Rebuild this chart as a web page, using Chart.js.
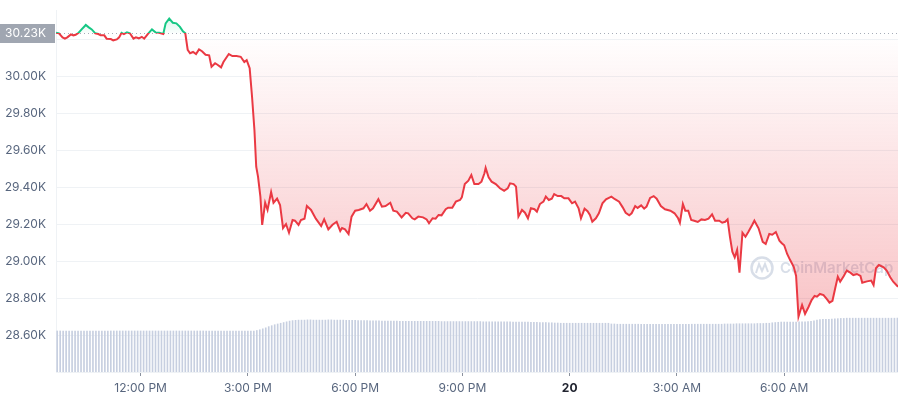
<!DOCTYPE html>
<html>
<head>
<meta charset="utf-8">
<script src="https://cdn.jsdelivr.net/npm/chart.js@4.4.0/dist/chart.umd.min.js"></script>
<style>
  html, body { margin: 0; padding: 0; background: #fff; }
  #wrap { width: 900px; height: 400px; position: relative; }
</style>
</head>
<body>
<div id="wrap"><canvas id="price-chart"></canvas></div>
<script>
// time in minutes from midnight of the 19th
const priceTimes = [
  578,583,589,593,597,603,607,611,616,621,628,633,638,644,649,653,659,663,670,674,680,684,688,692,697,702,708,712,717,722,726,732,739,745,751,758,762,768,774,780,786,791,795,799,803,808,813,818,
  823,829,835,839,845,849,855,859,868,874,881,888,894,898,903,907,911,914,917,921,924,929,933,939,943,949,954,959,964,969,975,979,985,989,995,999,1006,1014,1023,1028,1035,1042,1049,1055,
  1058,1063,1069,1074,1080,1086,1094,1099,1105,1110,1119,1125,1131,1139,1144,1150,1158,1165,1169,1176,1180,1186,1194,1200,1204,1210,1215,1220,1225,1232,1236,1243,1249,1256,1259,1264,1270,1275,1280,1287,
  1292,1297,1299,1304,1309,1316,1323,1330,1336,1340,1346,1350,1354,1360,1365,1370,1375,1381,1385,1390,1396,1400,1405,1410,1414,1420,1426,1431,1438,1444,1449,1455,1459,1465,1470,1474,1478,1484,1489,1495,1501,1510,1516,
  1523,1529,1534,1540,1544,1550,1554,1560,1565,1569,1575,1581,1586,1593,1600,1609,1616,1622,1625,1630,1634,1639,1644,1649,1655,1661,1667,1673,1679,1684,1691,1696,1701,1705,1709,1713,1717,1721,1725,1730,1735,1740,1746,1750,
  1757,1764,1769,1775,1780,1786,1792,1796,1800,1805,1810,1816,1820,1824,1830,1835,1841,1846,1851,1855,1860,1866,1872,1876,1881,1886,1890,1894,1900,1905,1911,1916,1922,1928,1931,1939,1946,1950,1954,1959,1967,1972,1978,1983,1991
];
const prices = [
  30234,30231,30209,30202,30209,30225,30220,30223,30234,30252,30276,30263,30252,30231,30227,30220,30220,30202,30200,30193,30198,30209,30234,30227,30236,30231,30202,30209,30204,30212,30202,30227,30252,30236,30234,30227,30285,30310,30288,30285,30266,30242,30231,30141,30123,30130,30119,30144,
  30134,30115,30112,30050,30069,30061,30047,30076,30119,30108,30108,30104,30076,30086,30042,29888,29708,29510,29456,29348,29195,29315,29276,29373,29315,29337,29303,29178,29200,29153,29222,29218,29195,29222,29229,29297,29276,29229,29189,29225,29171,29196,29212,29162,
  29178,29171,29146,29240,29272,29276,29285,29308,29272,29285,29334,29294,29297,29315,29272,29267,29236,29261,29258,29231,29225,29240,29236,29225,29204,29231,29229,29249,29247,29280,29288,29288,29321,29330,29344,29416,29434,29465,29416,29416,
  29429,29474,29503,29452,29429,29416,29393,29380,29393,29420,29416,29402,29240,29276,29261,29231,29285,29280,29267,29308,29321,29348,29330,29337,29362,29351,29351,29339,29339,29312,29321,29285,29231,29283,29269,29249,29212,29231,29258,29312,29334,29348,29334,
  29321,29290,29261,29247,29258,29297,29287,29301,29283,29294,29341,29351,29337,29297,29280,29272,29258,29231,29207,29308,29272,29272,29222,29218,29211,29225,29222,29229,29252,29218,29218,29207,29212,29225,29131,29050,29020,29060,28937,29153,29131,29158,29193,29218,
  29177,29104,29092,29146,29142,29157,29110,29096,29085,29038,29005,28969,28919,28699,28762,28714,28753,28789,28811,28807,28822,28816,28793,28775,28785,28858,28915,28888,28919,28948,28937,28924,28930,28919,28883,28890,28894,28870,28961,28978,28966,28948,28912,28888,28861
];
const openPrice = 30230;

// volume bars, one every 5 minutes (in $B)
const volumeStart = 580;
const volumeStep = 5;
const volumes = [
  17.0,17.0,17.0,17.0,17.0,17.0,17.0,17.0,17.0,17.0,
  17.0,17.0,17.0,17.0,17.0,17.0,17.0,17.0,17.0,17.0,
  17.0,17.0,17.0,17.0,17.0,17.0,17.0,17.0,17.0,17.0,
  17.0,17.0,17.0,17.0,17.0,17.0,17.0,17.0,17.0,17.0,
  17.0,17.0,17.0,17.0,17.0,17.0,17.0,17.0,17.0,17.0,
  17.0,17.0,17.0,17.0,17.0,17.0,17.0,17.0,17.0,17.0,
  17.0,17.0,17.0,17.0,17.0,17.0,17.0,
  17.2,17.5,17.9,18.3,18.8,19.2,19.6,19.9,20.2,20.5,20.8,21.1,
  21.3,21.4,21.5,21.5,21.5,21.6,21.6,21.5,21.5,21.5,
  21.5,21.5,21.6,21.6,21.5,21.5,21.5,21.5,21.4,21.4,
  21.4,21.4,21.3,21.3,21.3,21.3,21.2,21.2,21.2,21.2,
  21.1,21.1,21.1,21.1,21.1,21.1,21.0,21.0,21.0,21.0,
  21.0,21.0,21.0,21.0,21.0,21.0,21.0,21.0,21.0,21.0,
  20.9,20.9,20.9,20.9,20.9,20.9,20.9,20.9,20.9,20.9,
  20.9,20.9,20.9,20.9,20.8,20.8,20.8,20.8,20.8,20.8,
  20.8,20.8,20.8,20.8,20.7,20.7,20.7,20.7,20.7,20.7,
  20.6,20.6,20.6,20.5,20.5,20.5,20.4,20.4,20.3,20.3,
  20.2,20.2,20.2,20.2,20.2,20.2,20.2,20.2,20.2,20.2,
  20.2,20.2,20.2,20.2,20.2,20.2,20.2,
  19.9,19.9,19.8,19.8,19.8,19.8,19.8,19.8,19.8,19.8,
  19.8,19.8,19.8,19.8,19.8,19.8,19.8,19.8,19.8,19.8,
  19.8,19.8,19.8,19.8,19.8,19.8,19.8,19.8,19.8,19.8,
  19.8,19.8,19.8,19.8,19.8,19.8,19.8,19.8,19.9,19.9,
  19.9,19.9,20.0,20.0,
  20.0,20.0,20.0,20.0,20.0,20.1,20.1,20.1,20.2,20.2,
  20.4,20.5,20.6,20.7,20.7,20.7,20.7,20.7,20.7,20.8,20.8,20.8,20.9,21.0,21.2,
  21.5,21.7,21.8,21.8,21.8,21.9,22.0,22.1,
  22.2,22.2,22.3,22.3,22.3,22.3,22.3,22.3,22.3,22.3,
  22.3,22.3,22.3,22.3,22.3,22.3,22.3,22.3,22.3,22.3
];

const tickMinutes = [720, 900, 1080, 1260, 1440, 1620, 1800];
const tickLabels = ["12:00 PM", "3:00 PM", "6:00 PM", "9:00 PM", "20", "3:00 AM", "6:00 AM"];

const RED = "#ea3943";
const GREEN = "#16c784";

function splitGradient(chart, above, below) {
  const { chartArea, scales } = chart;
  if (!chartArea) return below[1];
  const g = chart.ctx.createLinearGradient(0, chartArea.top, 0, chartArea.bottom);
  let p = (scales.y.getPixelForValue(openPrice) - chartArea.top) / (chartArea.bottom - chartArea.top);
  p = Math.min(Math.max(p, 0), 1);
  g.addColorStop(0, above[0]);
  g.addColorStop(p, above[1]);
  g.addColorStop(p, below[0]);
  g.addColorStop(1, below[1]);
  return g;
}

const refLine = {
  id: "refLine",
  beforeDatasetsDraw(chart) {
    const { ctx, chartArea, scales } = chart;
    const y = Math.round(scales.y.getPixelForValue(openPrice)) + 0.5;
    ctx.save();
    ctx.strokeStyle = "#a6acb8";
    ctx.lineWidth = 1;
    ctx.setLineDash([1, 3]);
    ctx.beginPath();
    ctx.moveTo(chartArea.left, y);
    ctx.lineTo(chartArea.right, y);
    ctx.stroke();
    ctx.restore();

    // watermark
    ctx.save();
    ctx.globalAlpha = 0.55;
    ctx.strokeStyle = "#b8c2d6";
    ctx.fillStyle = "#b8c2d6";
    ctx.lineWidth = 2.5;
    ctx.beginPath();
    ctx.arc(762, 268, 10.5, 0, Math.PI * 2);
    ctx.stroke();
    ctx.lineWidth = 2;
    ctx.beginPath();
    ctx.moveTo(756, 273);
    ctx.lineTo(759, 264);
    ctx.lineTo(762, 271);
    ctx.lineTo(765, 264);
    ctx.lineTo(768, 272);
    ctx.stroke();
    ctx.font = "600 15px Inter";
    ctx.textBaseline = "middle";
    ctx.fillText("CoinMarketCap", 780, 268.5);
    ctx.restore();
  },
  afterDraw(chart) {
    const { ctx, scales } = chart;
    const y = scales.y.getPixelForValue(openPrice);
    ctx.save();
    ctx.fillStyle = "#a0a6b1";
    ctx.fillRect(0, Math.round(y) - 9, 55, 19);
    ctx.fillStyle = "#ffffff";
    ctx.font = "12px Inter";
    ctx.textAlign = "right";
    ctx.textBaseline = "middle";
    ctx.fillText((openPrice / 1000).toFixed(2) + "K", 46, Math.round(y) + 0.5);
    ctx.restore();
  }
};

const pricePoints = priceTimes.map((t, i) => ({ x: t, y: prices[i] }));
const volumePoints = volumes.map((v, i) => ({ x: volumeStart + i * volumeStep, y: v }));

new Chart(document.getElementById("price-chart"), {
  data: {
    datasets: [
      {
        type: "line",
        data: pricePoints,
        yAxisID: "y",
        borderWidth: 2,
        pointRadius: 0,
        tension: 0,
        borderColor: (c) => splitGradient(c.chart, [GREEN, GREEN], [RED, RED]),
        backgroundColor: (c) => splitGradient(c.chart,
          ["rgba(22,199,132,0.22)", "rgba(22,199,132,0.02)"],
          ["rgba(234,57,67,0.0)", "rgba(234,57,67,0.36)"]),
        fill: { value: openPrice },
      },
      {
        type: "bar",
        data: volumePoints,
        yAxisID: "yv",
        backgroundColor: "#c7cfe0",
        barThickness: 1,
        grouped: false,
      },
    ],
  },
  options: {
    responsive: true,
    maintainAspectRatio: false,
    animation: false,
    layout: { padding: { top: 10, right: 2, left: 0, bottom: 0 } },
    plugins: { legend: { display: false }, tooltip: { enabled: false } },
    scales: {
      x: {
        type: "linear",
        offset: false,
        min: 578,
        max: 1991,
        afterBuildTicks: (scale) => { scale.ticks = tickMinutes.map((v) => ({ value: v })); },
        afterFit: (scale) => { scale.height = 28; scale.paddingLeft = 0; scale.paddingRight = 0; },
        grid: { offset: false, drawOnChartArea: false, drawTicks: true, tickLength: 4, tickColor: "#8a919e" },
        border: { display: false },
        ticks: {
          autoSkip: false,
          maxRotation: 0,
          padding: 5,
          color: (c) => (c.tick && c.tick.value === 1440 ? "#222531" : "#58667e"),
          font: (c) => ({ family: "Inter", size: 12, weight: c.tick && c.tick.value === 1440 ? "bold" : "normal" }),
          callback: (v) => tickLabels[tickMinutes.indexOf(v)],
        },
      },
      y: {
        type: "linear",
        position: "left",
        min: 28400,
        max: 30357,
        afterFit: (scale) => { scale.width = 56; scale.paddingTop = 0; scale.paddingBottom = 0; },
        grid: { color: "#eff2f5", drawTicks: false },
        border: { display: true, color: "#eff2f5" },
        ticks: {
          stepSize: 200,
          includeBounds: false,
          padding: 10,
          color: "#58667e",
          font: { family: "Inter", size: 12 },
          callback: (v) => (v === 28400 || v === 30200 ? "" : (v / 1000).toFixed(2) + "K"),
        },
      },
      yv: {
        display: false,
        min: 0,
        max: 150,
      },
    },
  },
  plugins: [refLine],
});
</script>
</body>
</html>
